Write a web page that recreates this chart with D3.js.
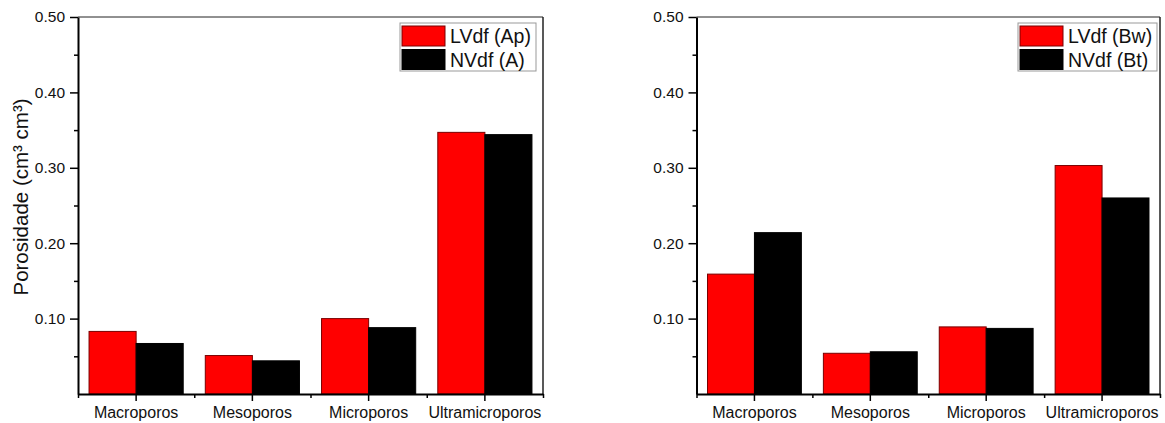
<!DOCTYPE html>
<html>
<head>
<meta charset="utf-8">
<script src="https://cdn.jsdelivr.net/npm/d3@7"></script>
<style>
  body { margin: 0; background: #fff; }
  svg { display: block; font-family: "Liberation Sans", Arial, sans-serif; }
</style>
</head>
<body>
<script>

// categories on the x axis
var categories = ["Macroporos", "Mesoporos", "Microporos", "Ultramicroporos"];

// left panel (surface horizons)
var left_names = ["LVdf (Ap)", "NVdf (A)"];
var left_lvdf = [0.083, 0.051, 0.100, 0.347];
var left_nvdf = [0.067, 0.044, 0.088, 0.344];

// right panel (subsurface horizons)
var right_names = ["LVdf (Bw)", "NVdf (Bt)"];
var right_lvdf = [0.159, 0.054, 0.089, 0.303];
var right_nvdf = [0.214, 0.056, 0.087, 0.260];

// y axis ticks
var major_ticks = [0.10, 0.20, 0.30, 0.40, 0.50];
var minor_ticks = [0.05, 0.15, 0.25, 0.35, 0.45];

var colours = ["#ff0000", "#000000"];
var strokes = ["#7a0000", "#000000"];

var svg = d3.select("body")
            .append("svg")
            .attr("width", 1165)
            .attr("height", 423);

function draw_panel(x_left, x_right, names, lvdf, nvdf, y_title, legend_box) {

    var top = 17, bottom = 394;

    var g = svg.append("g");

    // scales
    var x0 = d3.scaleBand()
        .domain(categories)
        .range([x_left, x_right])
        .paddingInner(0.19)
        .paddingOuter(0.095);

    var x1 = d3.scaleBand()
        .domain([0, 1])
        .range([0, x0.bandwidth()]);

    var x_idx = d3.scaleLinear()
        .domain([0, categories.length])
        .range([x_left, x_right]);

    var y = d3.scaleLinear()
        .domain([0, 0.5])
        .range([bottom, top]);

    // frame top and right
    g.append("line")
        .attr("x1", x_left).attr("x2", x_right)
        .attr("y1", top).attr("y2", top)
        .attr("stroke", "#222").attr("stroke-width", 1);
    g.append("line")
        .attr("x1", x_right).attr("x2", x_right)
        .attr("y1", top).attr("y2", bottom)
        .attr("stroke", "#222").attr("stroke-width", 1.5);

    // bars
    var rows = categories.map(function(c, i) {
        return {cat: c, values: [lvdf[i], nvdf[i]]};
    });

    g.selectAll(".grp")
        .data(rows)
        .enter()
        .append("g")
        .attr("transform", function(d) { return "translate(" + x0(d.cat) + ",0)"; })
        .selectAll("rect")
        .data(function(d) { return d.values.map(function(v, k) { return {k: k, v: v}; }); })
        .enter()
        .append("rect")
        .attr("x", function(d) { return x1(d.k); })
        .attr("y", function(d) { return y(d.v); })
        .attr("width", x1.bandwidth())
        .attr("height", function(d) { return bottom - y(d.v); })
        .attr("fill", function(d) { return colours[d.k]; })
        .attr("stroke", function(d) { return strokes[d.k]; })
        .attr("stroke-width", 1);

    // x axis: major ticks at categories, minor at boundaries
    var x_axis = g.append("g")
        .attr("transform", "translate(0," + bottom + ")")
        .call(d3.axisBottom(x0).tickSize(7).tickSizeOuter(0).tickPadding(6));
    x_axis.select(".domain").attr("stroke-width", 2);
    x_axis.selectAll("line").attr("stroke-width", 1.5);
    x_axis.selectAll("text")
        .attr("font-size", "16px")
        .attr("fill", "#111")
        .attr("font-family", "'Liberation Sans', Arial, sans-serif");

    var x_minor = g.append("g")
        .attr("transform", "translate(0," + bottom + ")")
        .call(d3.axisBottom(x_idx).tickValues([0, 1, 2, 3, 4]).tickSize(4).tickFormat(""));
    x_minor.select(".domain").remove();
    x_minor.selectAll("line").attr("stroke-width", 1.5);

    // y axis
    var y_axis = g.append("g")
        .attr("transform", "translate(" + x_left + ",0)")
        .call(d3.axisLeft(y).tickValues(major_ticks).tickFormat(d3.format(".2f"))
              .tickSize(8).tickSizeOuter(0).tickPadding(5));
    y_axis.select(".domain").attr("stroke-width", 2);
    y_axis.selectAll("line").attr("stroke-width", 1.5);
    y_axis.selectAll("text")
        .attr("font-size", "15.5px")
        .attr("fill", "#111")
        .attr("font-family", "'Liberation Sans', Arial, sans-serif");

    var y_minor = g.append("g")
        .attr("transform", "translate(" + x_left + ",0)")
        .call(d3.axisLeft(y).tickValues(minor_ticks).tickSize(4).tickFormat(""));
    y_minor.select(".domain").remove();
    y_minor.selectAll("line").attr("stroke-width", 1.5);

    // y axis title
    if (y_title) {
        g.append("text")
            .attr("transform", "translate(28,197) rotate(-90)")
            .attr("text-anchor", "middle")
            .attr("font-size", "20.5px")
            .attr("fill", "#111")
            .text(y_title);
    }

    // legend
    var lg = g.append("g");
    lg.append("rect")
        .attr("x", legend_box[0]).attr("y", legend_box[1])
        .attr("width", legend_box[2]).attr("height", legend_box[3])
        .attr("fill", "#fff")
        .attr("stroke", "#999").attr("stroke-width", 1);

    names.forEach(function(name, k) {
        var sy = legend_box[1] + 3 + k * 23.5;
        lg.append("rect")
            .attr("x", legend_box[0] + 2).attr("y", sy)
            .attr("width", 43).attr("height", 20)
            .attr("fill", colours[k])
            .attr("stroke", strokes[k]).attr("stroke-width", 1);
        lg.append("text")
            .attr("x", legend_box[0] + 50)
            .attr("y", sy + 17)
            .attr("font-size", "19.5px")
            .attr("fill", "#111")
            .text(name);
    });
}

draw_panel(78, 543, left_names, left_lvdf, left_nvdf,
           "Porosidade (cm\u00B3 cm\u00B3)", [400, 23, 136, 48]);
draw_panel(696.5, 1160, right_names, right_lvdf, right_nvdf,
           null, [1018, 23, 139, 48]);

</script>
</body>
</html>
